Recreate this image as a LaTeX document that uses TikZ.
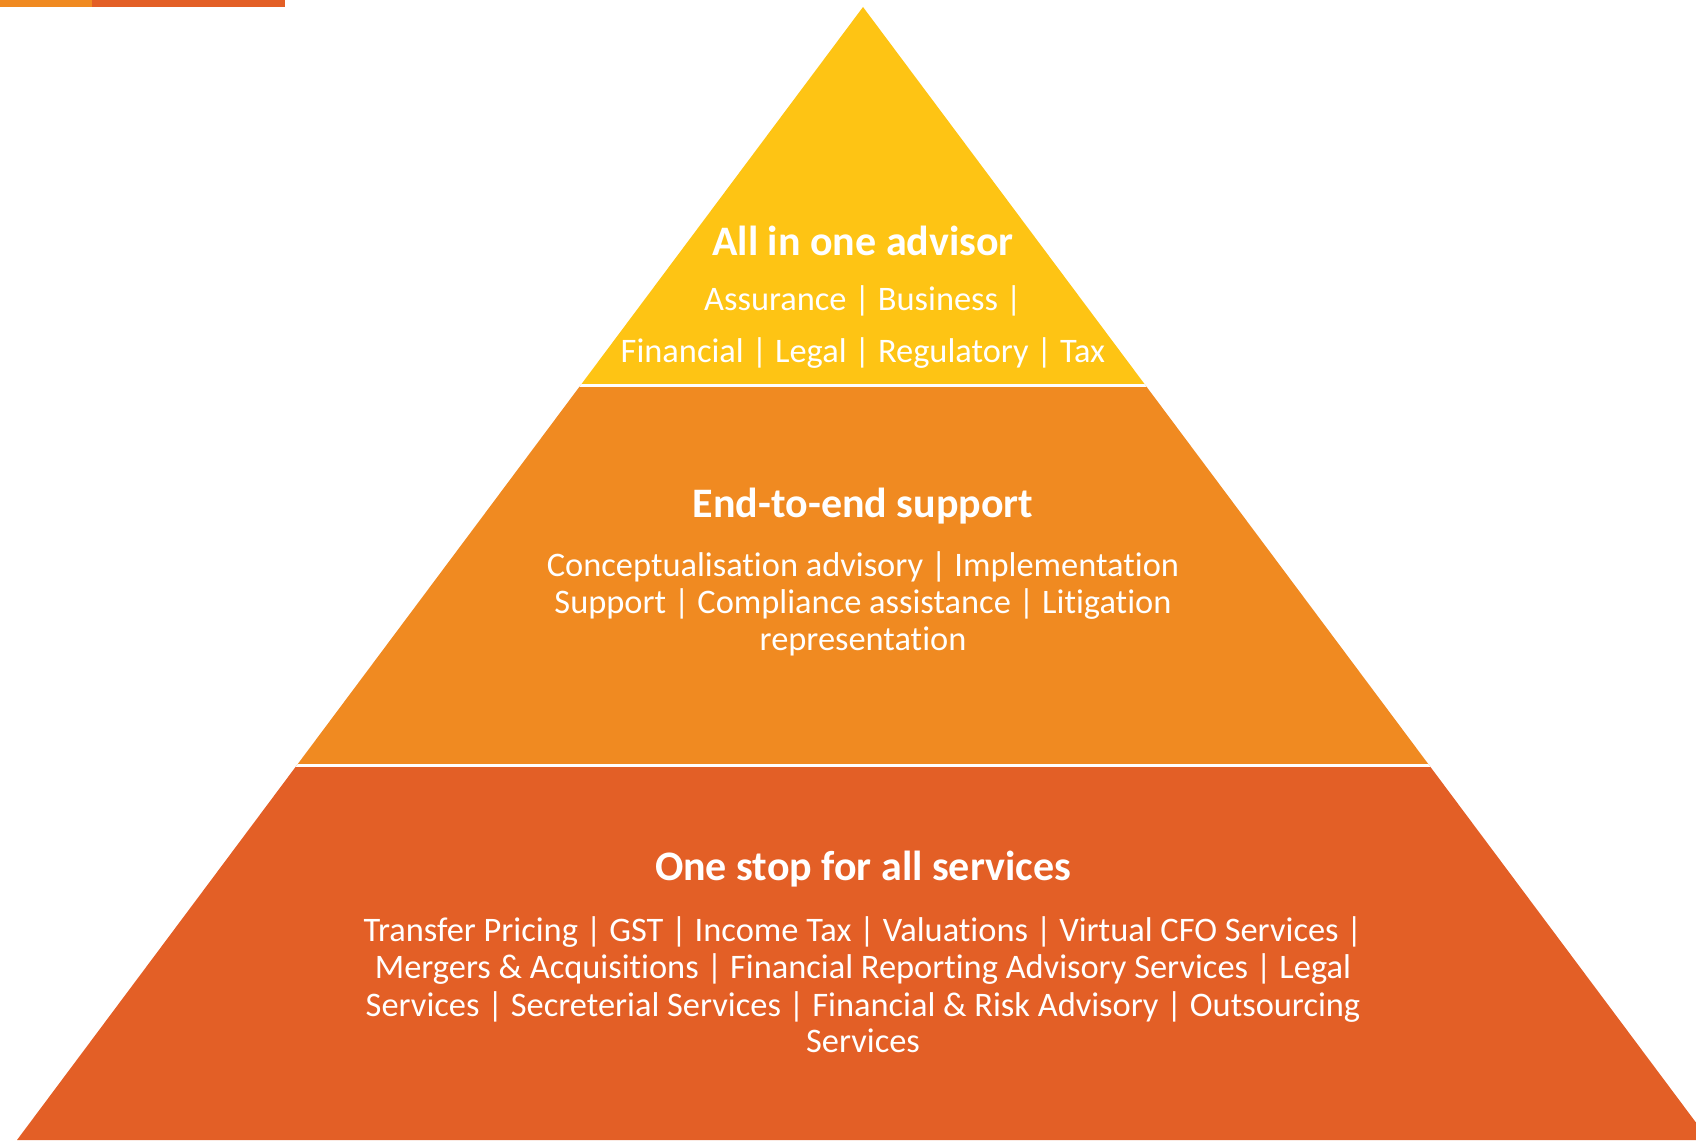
\documentclass[tikz,border=0pt]{standalone}
\usepackage{fontspec}
\setmainfont[Ligatures={NoCommon}]{Carlito}
\definecolor{pyellow}{HTML}{FEC414}
\definecolor{porange}{HTML}{F08A21}
\definecolor{pred}{HTML}{E35F26}
\begin{document}
\begin{tikzpicture}[x=1pt,y=-1pt,
  title/.style={text=white,font=\fontsize{42}{46}\selectfont\bfseries,anchor=base,inner sep=0pt},
  body/.style={text=white,font=\fontsize{34.4}{37}\selectfont,anchor=base,inner sep=0pt},
  gap/.style={draw=white,line width=3pt}]
\useasboundingbox (0,0) rectangle (1696,1140);
\fill[porange] (0,0) rectangle (92,7);
\fill[pred] (92,0) rectangle (285,7);
\coordinate (apex) at (863,7);
\coordinate (bl) at (17,1140);
\coordinate (br) at (1709,1140);
\begin{scope}
\clip (0,0) rectangle (1696,1140);
\clip (apex) -- (bl) -- (br) -- cycle;
\fill[pyellow] (0,0) rectangle (1720,385.5);
\fill[porange] (0,385.5) rectangle (1720,765.5);
\fill[pred] (0,765.5) rectangle (1720,1145);
\draw[gap] (0,385.5) -- (1720,385.5);
\draw[gap] (0,765.5) -- (1720,765.5);
\end{scope}
\node[title] (t1) at (863,255) {All in one advisor};
\node[body] (t1a) at (863,310) {Assurance | Business |};
\node[body] (t1b) at (863,362) {Financial | Legal | Regulatory | Tax};
\node[title] (t2) at (863,517) {End-to-end support};
\node[body] (t2a) at (863,576) {Conceptualisation advisory | Implementation};
\node[body] (t2b) at (863,613) {Support | Compliance assistance | Litigation};
\node[body] (t2c) at (863,650.5) {representation};
\node[title] (t3) at (863,880.5) {One stop for all services};
\node[body] (t3a) at (863,941) {Transfer Pricing | GST | Income Tax | Valuations | Virtual CFO Services |};
\node[body] (t3b) at (863,978) {Mergers \& Acquisitions | Financial Reporting Advisory Services | Legal};
\node[body] (t3c) at (863,1016) {Services | Secreterial Services | Financial \& Risk Advisory | Outsourcing};
\node[body] (t3d) at (863,1052.5) {Services};
\end{tikzpicture}
\end{document}
